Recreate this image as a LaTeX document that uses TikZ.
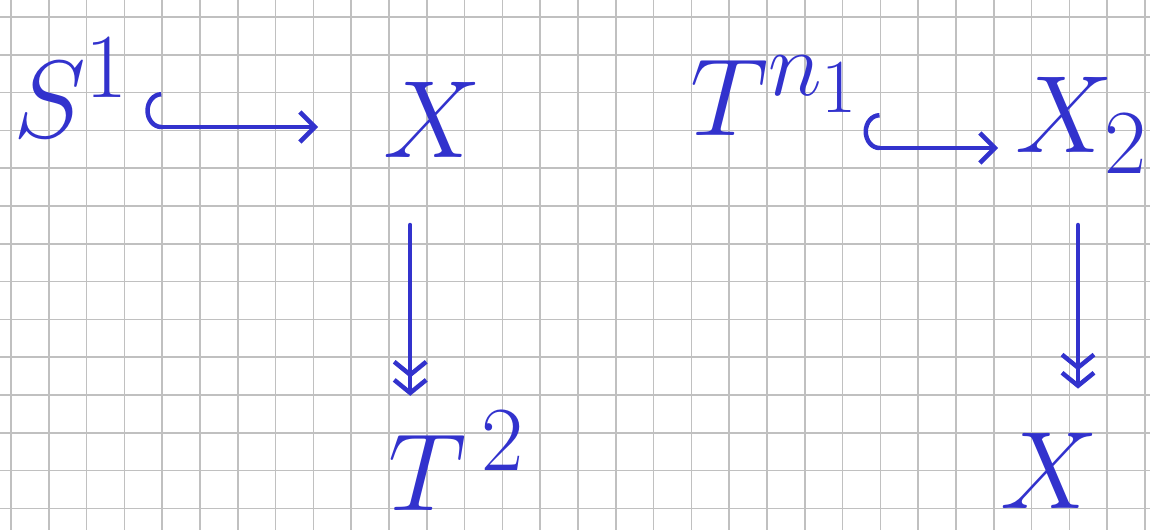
\documentclass[tikz,border=0pt]{standalone}
\usepackage{graphicx}
\usetikzlibrary{arrows.meta}
\definecolor{ink}{RGB}{50,50,205}
\definecolor{gridc}{RGB}{192,192,192}
\newcommand{\handlbl}[1]{\scalebox{4.42}{\fontsize{24.88}{30}\selectfont$#1$}}
\begin{document}
\begin{tikzpicture}[x=1pt,y=-1pt,
  lab/.style={text=ink, inner sep=0pt, anchor=base west},
  hookarr/.style={draw=ink, line width=4.5pt, line cap=round, {Hooks[right,length=16pt,width=70pt]}-{Straight Barb[length=15pt,width=30pt]}},
  surj/.style={draw=ink, line width=4.5pt, line cap=round, -{Straight Barb[length=13pt,width=32pt]Straight Barb[length=13pt,width=32pt]}},
  gridline/.style={draw=gridc, line width=1.5pt}]
\useasboundingbox (0,0) rectangle (1150,530);
\foreach \i in {0,...,30} \draw[gridline] ({11+37.8*\i},0) -- ({11+37.8*\i},530);
\foreach \j in {0,...,13} \draw[gridline] (0,{17+37.8*\j}) -- (1150,{17+37.8*\j});
\node[lab] (s1) at (13,137) {\handlbl{S^{1}}};
\node[lab] (x) at (383,157) {\handlbl{X}};
\node[lab] (t2) at (388,510) {\handlbl{T^{\,2}}};
\node[lab] (tn) at (690,135) {\handlbl{T^{n_1}}};
\node[lab] (x2) at (1015,152) {\handlbl{X_{2}}};
\node[lab] (xb) at (1000,508) {\handlbl{X}};
\path ([xshift=-22pt,yshift=-68pt]x.base) coordinate (d1s);
\path ([xshift=63pt,yshift=-73pt]x2.base west) coordinate (d2s);
\draw[hookarr] ([xshift=15pt,yshift=10pt]s1.base east) -- ([xshift=-65pt,yshift=30pt]x.base west);
\draw[hookarr] ([xshift=2pt,yshift=-13pt]tn.base east) -- ([xshift=-17pt,yshift=4pt]x2.base west);
\draw[surj] (d1s) -- ([yshift=15pt]d1s |- t2.north);
\draw[surj] (d2s) -- ([yshift=44pt]d2s |- xb.north);
\end{tikzpicture}
\end{document}
